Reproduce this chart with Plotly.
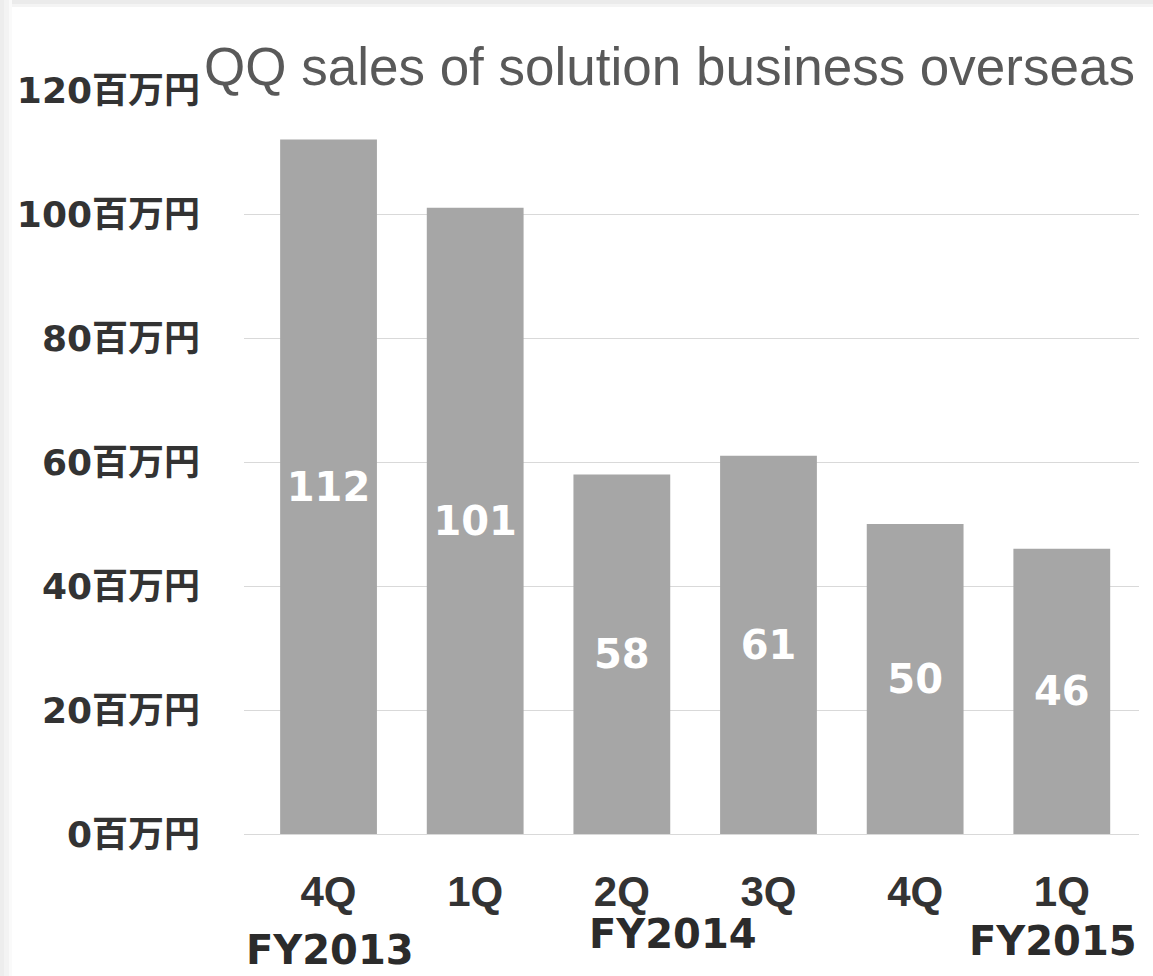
import plotly.graph_objects as go

# ---- data ----
quarters = ["4Q", "1Q", "2Q", "3Q", "4Q", "1Q"]
sales = [112, 101, 58, 61, 50, 46]
y_tick_vals = [0, 20, 40, 60, 80, 100, 120]
y_tick_text = ["0百万円", "20百万円", "40百万円", "60百万円", "80百万円", "100百万円", "120百万円"]
fiscal_years = ["FY2013", "FY2014", "FY2015"]
title_text = "QQ sales of solution business overseas"

# categories need unique keys (quarter labels repeat)
cat_keys = [f"{q}_{i}" for i, q in enumerate(quarters)]

W, H = 1153, 976
L, R, T, B = 244, 14, 90, 142
plot_w = W - L - R
plot_h = H - T - B

BAR_COLOR = "#a6a6a6"
GRID_COLOR = "#d9d9d9"
TEXT_DARK = "#333333"
BOLD_WIDE = "DejaVu Sans, Noto Sans CJK JP, sans-serif"
ARIAL = "Liberation Sans, Arial, Noto Sans CJK JP, sans-serif"

fig = go.Figure()
fig.add_trace(go.Bar(
    x=cat_keys,
    y=sales,
    marker=dict(color=BAR_COLOR, line=dict(width=0)),
    text=[str(v) for v in sales],
    textposition="inside",
    insidetextanchor="middle",
    textangle=0,
    textfont=dict(family=BOLD_WIDE, size=40, color="white", weight="bold"),
    hoverinfo="x+y",
))


def px_rect(x0, y0, x1, y1, color):
    return dict(type="rect", xref="paper", yref="paper",
                x0=(x0 - L) / plot_w, x1=(x1 - L) / plot_w,
                y0=(H - B - y1) / plot_h, y1=(H - B - y0) / plot_h,
                fillcolor=color, line=dict(width=0), layer="below")


# soft frame shadow along top and left edges
shapes = [
    px_rect(0, 0, W, 4, "#ebebeb"),
    px_rect(0, 4, W, 7, "#f4f4f4"),
    px_rect(0, 0, 4, H, "#ededed"),
    px_rect(4, 0, 9, H, "#f3f3f3"),
    px_rect(9, 0, 12, H, "#fafafa"),
]

# fiscal-year labels: (category position, paper y)
fy_pos = [(0.01, (834 - 950) / 744), (2.35, (834 - 934) / 744), (4.94, (834 - 941) / 744)]
annotations = []
for label, (xi, yp) in zip(fiscal_years, fy_pos):
    annotations.append(dict(
        text=label, x=xi, xref="x", y=yp, yref="paper",
        xanchor="center", yanchor="middle", showarrow=False,
        font=dict(family=BOLD_WIDE, size=40, color="#2b2b2b", weight="bold"),
    ))
annotations.append(dict(
    text=title_text, x=(1137 - L) / plot_w, xref="paper", y=1 + 24 / plot_h, yref="paper",
    xanchor="right", yanchor="middle", showarrow=False,
    font=dict(family=ARIAL, size=53, color="#595959"),
))

fig.update_layout(
    width=W, height=H,
    margin=dict(l=L, r=R, t=T, b=B, pad=0),
    paper_bgcolor="white",
    plot_bgcolor="rgba(0,0,0,0)",
    bargap=0.34,
    showlegend=False,
    shapes=shapes,
    annotations=annotations,
    xaxis=dict(
        type="category",
        tickvals=cat_keys,
        ticktext=quarters,
        showgrid=False,
        showline=True, linecolor=GRID_COLOR, linewidth=1,
        ticks="",
        ticklabelstandoff=21,
        tickfont=dict(family=ARIAL, size=42, color=TEXT_DARK, weight="bold"),
        automargin=False,
    ),
    yaxis=dict(
        range=[0, 120],
        tickvals=y_tick_vals,
        ticktext=y_tick_text,
        showgrid=True, gridcolor=GRID_COLOR, gridwidth=1,
        zeroline=False,
        showline=False,
        ticks="",
        ticklabelstandoff=43,
        tickfont=dict(family=BOLD_WIDE, size=36, color=TEXT_DARK, weight="bold"),
        automargin=False,
    ),
)

fig.write_html("out.html", config={"displayModeBar": False},
               post_script="document.body.style.margin='0';")
